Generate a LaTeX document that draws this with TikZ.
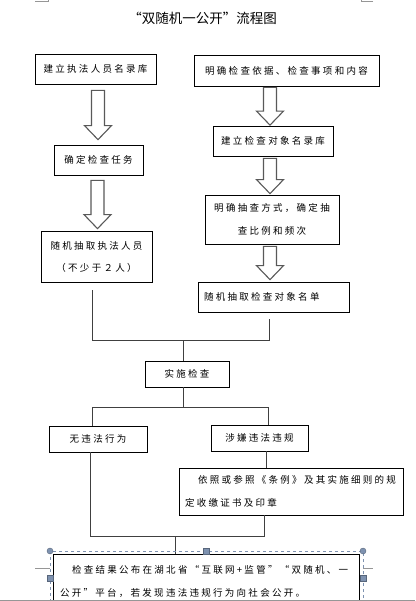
\documentclass[tikz,border=0pt]{standalone}
\usepackage{fontspec}
\setmainfont{Noto Sans CJK SC}
\newfontfamily\boxfont[LetterSpace=24]{Noto Sans CJK SC}
\usetikzlibrary{calc}
\setlength{\parindent}{0pt}
\definecolor{handle}{RGB}{126,146,176}
\definecolor{edgegray}{RGB}{150,150,150}

\begin{document}
\begin{tikzpicture}[x=1pt, y=-1pt,
  box/.style={draw, line width=0.75pt, inner sep=0pt, font=\boxfont\fontsize{9.5}{23}\selectfont, align=center},
  link/.style={draw=black!75, line width=0.9pt},
  hollow/.style={draw=black!65, line width=1.1pt, fill=white, line join=miter},
  sel/.style={draw=handle, line width=0.6pt, dashed}]
  \useasboundingbox (0,0) rectangle (415,601);
  \clip (0,0) rectangle (415,601);
  % page corner marks
  \draw[edgegray, line width=0.6pt] (35,1.5) -- (48,1.5) -- (48,0);
  \draw[edgegray, line width=0.6pt] (373,1.5) -- (361,1.5) -- (361,0);
  % title
  \node[font=\fontsize{13.5}{16}\selectfont] (title) at (202.5,18.5) {“双随机一公开”流程图};
  % left column
  \node[box, minimum width=121pt, minimum height=30pt] (staffdb) at (95.5,69) {建立执法人员名录库};
  \node[box, minimum width=89pt, minimum height=30pt] (task) at (98.5,160) {确定检查任务};
  \node[box, minimum width=111pt, minimum height=51pt, font=\boxfont\fontsize{9.5}{22}\selectfont] (pickstaff) at (96.5,256.5) {随机抽取执法人员\\（不少于２人）};
  % right column
  \node[box, minimum width=185pt, minimum height=31pt] (basis) at (286.5,70.5) {明确检查依据、检查事项和内容};
  \node[box, minimum width=120pt, minimum height=30pt] (objdb) at (273,141) {建立检查对象名录库};
  \node[box, minimum width=134pt, minimum height=49pt] (mode) at (272,219.5) {明确抽查方式，确定抽\\查比例和频次};
  \node[box, minimum height=30pt, inner xsep=6pt, text width=139pt, align=left] (pickobj) at (273.5,297) {随机抽取检查对象名单};
  % inspection and results
  \node[box, minimum width=84pt, minimum height=26pt] (implement) at (187,374) {实施检查};
  \node[box, minimum width=98pt, minimum height=26pt] (noviol) at (98,439) {无违法行为};
  \node[box, minimum width=97pt, minimum height=26pt] (suspect) at (259.5,438) {涉嫌违法违规};
  \node[box, minimum height=47pt, inner xsep=6pt, text width=212pt, align=left] (revoke) at (291,491.5) {\hspace*{13pt}依照或参照《条例》及其实施细则的规\\定收缴证书及印章};
  \node[box, anchor=north, minimum height=55pt, inner xsep=7pt, text width=292pt, align=left] (publish) at (206,554) {\hspace*{12pt}检查结果公布在湖北省“互联网+监管”“双随机、一\\公开”平台，若发现违法违规行为向社会公开。};
  % hollow arrows
  \foreach \a/\b/\dx/\gt/\gb in {staffdb/task/2.5/6pt/5pt, task/pickstaff/-1/5pt/2pt, basis/objdb/-16.5/1pt/0.5pt, objdb/mode/-3/2pt/1pt, mode/pickobj/-2/2pt/2pt} {
    \draw[hollow] let \p1=([xshift=\dx pt]\a.south), \p2=(\b.north) in
      (\x1-6.5pt,\y1-\gt) -- (\x1+6.5pt,\y1-\gt) -- (\x1+6.5pt,\y2+\gb+14pt) -- (\x1+13.5pt,\y2+\gb+14pt)
      -- (\x1,\y2+\gb) -- (\x1-13.5pt,\y2+\gb+14pt) -- (\x1-6.5pt,\y2+\gb+14pt) -- cycle;
  }
  % merge of both branches
  \coordinate (mergeL) at (92,340);
  \coordinate (mergeR) at (269,340);
  \coordinate (mergeM) at (183,340);
  \draw[link] ([xshift=-4.5pt,yshift=-8pt]pickstaff.south) -- (mergeL) -- (mergeR) -- ([xshift=-4.5pt,yshift=-7pt]pickobj.south);
  \draw[link] (mergeM) -- (mergeM |- implement.north);
  % split after inspection
  \coordinate (splitL) at (92,407);
  \coordinate (splitR) at (268,407);
  \coordinate (splitM) at (183,407);
  \draw[link] (splitM |- implement.south) -- (splitM);
  \draw[link] (noviol.north -| splitL) -- (splitL) -- (splitR) -- (suspect.north -| splitR);
  \draw[link] ([xshift=6.5pt]suspect.south) -- ([xshift=6.5pt]suspect.south |- revoke.north);
  % join before publishing
  \coordinate (joinL) at (90,536);
  \coordinate (joinR) at (264,536);
  \coordinate (joinM) at (175,536);
  \draw[link] (noviol.south -| joinL) -- (joinL) -- (joinR) -- (revoke.south -| joinR);
  \draw[link] (joinM) -- (joinM |- publish.north);
  % selection frame round the last box
  \draw[sel] (50,551) rectangle (363,625);
  \draw[edgegray, line width=0.6pt] (35,568) -- (50,568);
  \draw[edgegray, line width=0.6pt] (363,568) -- (373,568);
  \foreach \hx/\hy in {50/551, 363/551}
    \filldraw[fill=handle, draw=handle!70!black, line width=0.4pt] (\hx,\hy) circle (3pt);
  \foreach \hx/\hy in {206/551, 50/578, 363/578}
    \filldraw[fill=handle, draw=handle!70!black, line width=0.4pt] (\hx-3,\hy-3) rectangle (\hx+3,\hy+3);
  % page edge
  \draw[edgegray, line width=0.8pt] (0,600.3) -- (415,600.3);
\end{tikzpicture}
\end{document}
